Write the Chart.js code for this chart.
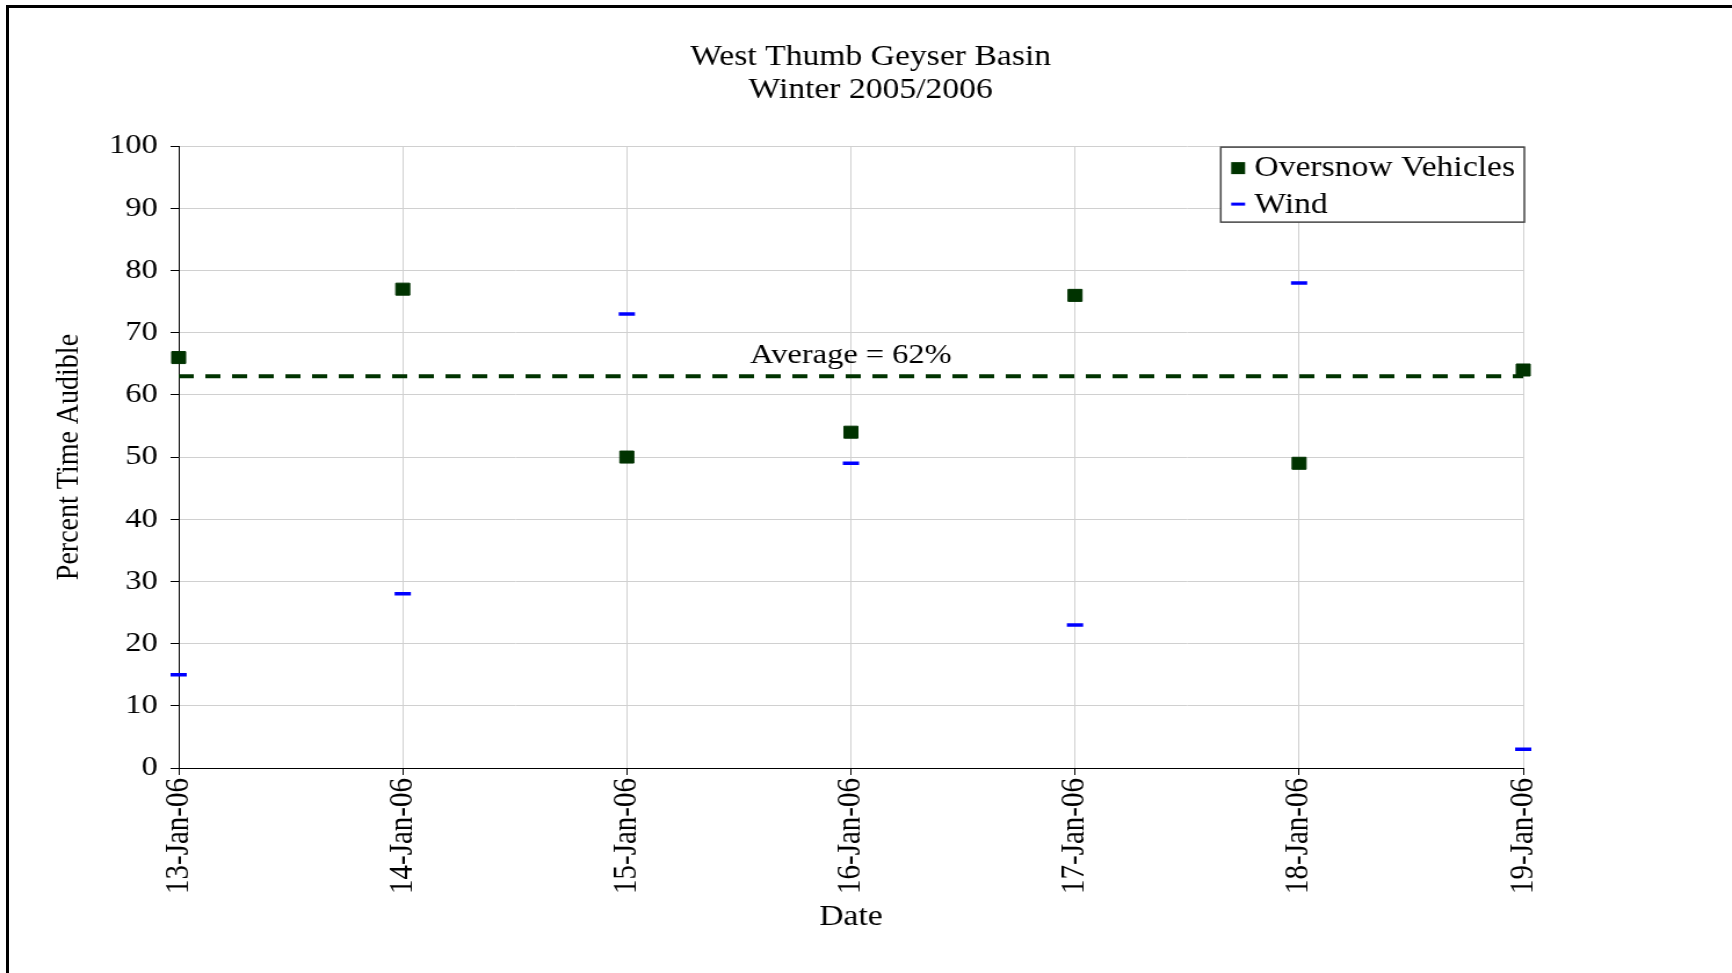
<!DOCTYPE html>
<html lang="en">
<head>
    <meta charset="UTF-8">
    <title>West Thumb Geyser Basin</title>
    <script src="https://cdn.jsdelivr.net/npm/chart.js"></script>
    <style>
        html, body { margin: 0; padding: 0; background: #fff; overflow: hidden; }
        .frame {
            position: absolute; left: 6px; top: 5px;
            width: 1900px; height: 1200px;
            border: 3px solid #000;
        }
        #chart {
            position: absolute; left: 0; top: 0;
            transform-origin: 0 0;
        }
    </style>
</head>
<body>
    <div class="frame"></div>
    <canvas id="chart" width="1493" height="973" style="width:1493px;height:973px;"></canvas>

<script>
// Dados
const dates = ['13-Jan-06', '14-Jan-06', '15-Jan-06', '16-Jan-06', '17-Jan-06', '18-Jan-06', '19-Jan-06'];
const oversnow = [66, 77, 50, 54, 76, 49, 64];
const wind = [15, 28, 73, 49, 23, 78, 3];
const averageValue = 63;
const averageText = 'Average = 62%';
const averageLabelAt = '16-Jan-06';
const yTicks = [0, 10, 20, 30, 40, 50, 60, 70, 80, 90, 100];

const serif = "'Liberation Serif', 'Times New Roman', serif";
const green = '#003300';
const blue = '#0000ff';

// a imagem original é esticada na horizontal
const canvas = document.getElementById('chart');
canvas.style.transform = 'scaleX(' + (1732 / canvas.width) + ')';

// legenda com caixa dentro da área do gráfico
const boxLegend = {
    id: 'boxLegend',
    afterDraw(chart) {
        const ctx = chart.ctx;
        const area = chart.chartArea;
        ctx.save();
        ctx.font = '29px ' + serif;
        const textW = ctx.measureText('Oversnow Vehicles').width;
        const w = textW + 37, h = 75;
        const left = area.right + 1 - w, top = area.top + 1;
        ctx.fillStyle = '#fff';
        ctx.fillRect(left, top, w, h);
        ctx.strokeStyle = '#444';
        ctx.lineWidth = 1.5;
        ctx.strokeRect(left, top, w, h);

        // marcador quadrado
        const ds = chart.data.datasets;
        ctx.fillStyle = ds[0].backgroundColor;
        ctx.fillRect(left + 9, top + 15, 12, 12);
        // marcador traço
        ctx.strokeStyle = ds[1].borderColor;
        ctx.lineWidth = 3;
        ctx.beginPath();
        ctx.moveTo(left + 9, top + 57);
        ctx.lineTo(left + 21, top + 57);
        ctx.stroke();

        ctx.fillStyle = '#000';
        ctx.textBaseline = 'middle';
        ctx.textAlign = 'left';
        ctx.fillText(ds[0].label, left + 29, top + 21);
        ctx.fillText(ds[1].label, left + 29, top + 58);
        ctx.restore();
    }
};

// texto da média acima da linha tracejada
const averageLabel = {
    id: 'averageLabel',
    afterDatasetsDraw(chart) {
        const ctx = chart.ctx;
        const x = chart.scales.x.getPixelForValue(dates.indexOf(averageLabelAt));
        const y = chart.scales.y.getPixelForValue(averageValue);
        ctx.save();
        ctx.font = '28px ' + serif;
        ctx.fillStyle = '#000';
        ctx.textAlign = 'center';
        ctx.textBaseline = 'middle';
        ctx.fillText(averageText, x, y - 21);
        ctx.restore();
    }
};

new Chart(canvas.getContext('2d'), {
    type: 'line',
    data: {
        labels: dates,
        datasets: [
            {
                label: 'Oversnow Vehicles',
                data: oversnow,
                showLine: false,
                pointStyle: 'rect',
                pointRadius: 8.5,
                pointBorderWidth: 1,
                backgroundColor: green,
                borderColor: green
            },
            {
                label: 'Wind',
                data: wind,
                showLine: false,
                pointStyle: 'line',
                pointRadius: 7,
                pointBorderWidth: 3.5,
                backgroundColor: blue,
                borderColor: blue
            },
            {
                label: 'Average',
                data: dates.map(() => averageValue),
                borderColor: green,
                borderWidth: 4,
                borderDash: [13, 10],
                pointRadius: 0,
                fill: false
            }
        ]
    },
    options: {
        responsive: false,
        animation: false,
        devicePixelRatio: 1,
        layout: { padding: { left: 8, right: 0, top: 0, bottom: 0 } },
        plugins: {
            legend: { display: false },
            tooltip: { enabled: false },
            title: {
                display: true,
                text: ['West Thumb Geyser Basin', 'Winter 2005/2006'],
                color: '#000',
                font: { family: serif, size: 29, weight: 'normal', lineHeight: 1.14 },
                padding: { top: 41, bottom: 39 }
            }
        },
        scales: {
            x: {
                offset: false,
                grid: { color: '#d0d0d0', tickColor: '#000', tickLength: 7 },
                border: { color: '#000', width: 1 },
                ticks: {
                    color: '#000',
                    font: { family: serif, size: 29 },
                    minRotation: 90,
                    maxRotation: 90,
                    autoSkip: false,
                    padding: 3
                },
                title: {
                    display: true,
                    text: 'Date',
                    color: '#000',
                    font: { family: serif, size: 29 },
                    padding: { top: 0, bottom: 38 }
                },
                afterFit(scale) { scale.height = 205; }
            },
            y: {
                min: 0,
                max: 100,
                afterBuildTicks(scale) { scale.ticks = yTicks.map(v => ({ value: v })); },
                grid: { color: '#d0d0d0', tickColor: '#000', tickLength: 7 },
                border: { color: '#000', width: 1 },
                ticks: {
                    color: '#000',
                    font: { family: serif, size: 28 },
                    padding: 11
                },
                title: {
                    display: true,
                    text: 'Percent Time Audible',
                    color: '#000',
                    font: { family: serif, size: 28 },
                    padding: { top: 35, bottom: 0 }
                },
                afterFit(scale) { scale.width = 146; }
            },
            // eixo vazio só para reservar a margem da direita
            yRight: {
                position: 'right',
                min: 0,
                max: 100,
                grid: { display: false },
                border: { display: false },
                ticks: { display: false },
                afterFit(scale) { scale.width = 180; }
            }
        }
    },
    plugins: [boxLegend, averageLabel]
});
</script>
</body>
</html>
